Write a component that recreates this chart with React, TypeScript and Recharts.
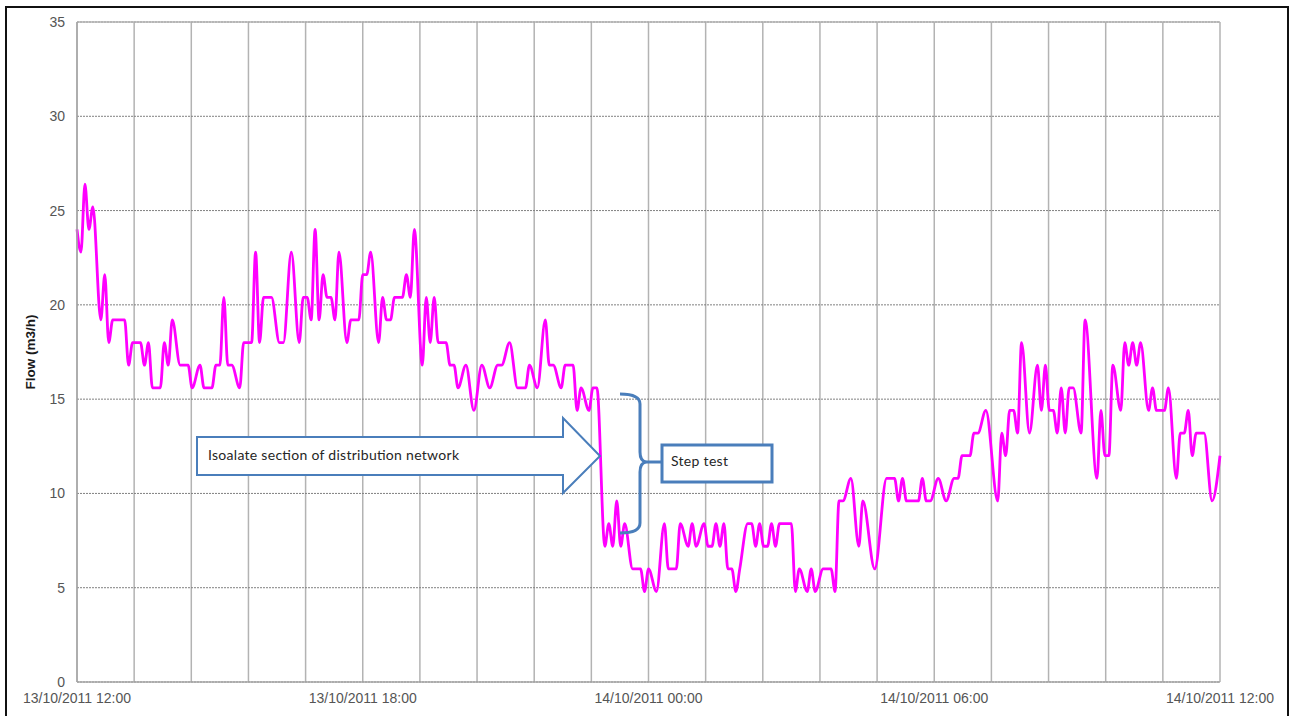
import React from "react";
import { LineChart, Line, XAxis, YAxis, CartesianGrid, ReferenceLine } from "recharts";

// minutes after 13/10/2011 12:00
const minutes = [
    0, 5, 10, 15, 20, 30, 35, 40, 45, 60, 65, 70, 80, 85, 90, 95, 105, 110, 115, 120,
    130, 140, 145, 155, 160, 170, 175, 180, 185, 190, 195, 205, 210, 220, 225, 230, 235, 245, 255, 260,
    270, 280, 285, 290, 295, 300, 305, 310, 315, 320, 325, 330, 340, 345, 355, 360, 365, 370, 380, 385,
    390, 395, 400, 410, 415, 420, 425, 435, 440, 445, 450, 455, 465, 470, 475, 480, 490, 500, 510, 520,
    530, 535, 545, 555, 565, 570, 580, 590, 595, 600, 610, 615, 625, 630, 635, 645, 650, 655, 665, 670,
    675, 680, 685, 690, 700, 710, 715, 720, 730, 740, 745, 755, 760, 770, 775, 780, 790, 795, 800, 805,
    810, 815, 820, 825, 830, 835, 845, 850, 855, 860, 865, 870, 875, 880, 885, 900, 905, 910, 920, 925,
    930, 940, 950, 955, 960, 965, 975, 985, 990, 1005, 1020, 1030, 1035, 1040, 1045, 1060, 1065, 1070, 1075, 1085,
    1095, 1105, 1110, 1115, 1125, 1130, 1135, 1145, 1160, 1165, 1170, 1175, 1180, 1185, 1190, 1200, 1210, 1215, 1220, 1225,
    1230, 1235, 1240, 1245, 1250, 1255, 1265, 1270, 1285, 1290, 1295, 1300, 1305, 1315, 1320, 1325, 1330, 1335, 1340, 1350,
    1355, 1360, 1370, 1375, 1385, 1390, 1395, 1400, 1405, 1410, 1420, 1430, 1440,
];

// flow in m3/h
const flow = [
    24.0, 22.8, 26.4, 24.0, 25.2, 19.2, 21.6, 18.0, 19.2, 19.2, 16.8, 18.0, 18.0, 16.8, 18.0, 15.6, 15.6, 18.0, 16.8, 19.2,
    16.8, 16.8, 15.6, 16.8, 15.6, 15.6, 16.8, 16.8, 20.4, 16.8, 16.8, 15.6, 18.0, 18.0, 22.8, 18.0, 20.4, 20.4, 18.0, 18.0,
    22.8, 18.0, 20.4, 20.4, 19.2, 24.0, 19.2, 21.6, 20.4, 20.4, 19.2, 22.8, 18.0, 19.2, 19.2, 21.6, 21.6, 22.8, 18.0, 20.4,
    19.2, 19.2, 20.4, 20.4, 21.6, 20.4, 24.0, 16.8, 20.4, 18.0, 20.4, 18.0, 18.0, 16.8, 16.8, 15.6, 16.8, 14.4, 16.8, 15.6,
    16.8, 16.8, 18.0, 15.6, 15.6, 16.8, 15.6, 19.2, 16.8, 16.8, 15.6, 16.8, 16.8, 14.4, 15.6, 14.4, 15.6, 15.6, 7.2, 8.4,
    7.2, 9.6, 7.2, 8.4, 6.0, 6.0, 4.8, 6.0, 4.8, 8.4, 6.0, 6.0, 8.4, 7.2, 8.4, 7.2, 8.4, 7.2, 7.2, 8.4,
    7.2, 8.4, 6.0, 6.0, 4.8, 6.0, 8.4, 8.4, 7.2, 8.4, 7.2, 7.2, 8.4, 7.2, 8.4, 8.4, 4.8, 6.0, 4.8, 6.0,
    4.8, 6.0, 6.0, 4.8, 9.6, 9.6, 10.8, 7.2, 9.6, 6.0, 10.8, 10.8, 9.6, 10.8, 9.6, 9.6, 10.8, 9.6, 9.6, 10.8,
    9.6, 10.8, 10.8, 12.0, 12.0, 13.2, 13.2, 14.4, 9.6, 13.2, 12.0, 14.4, 14.4, 13.2, 18.0, 13.2, 16.8, 14.4, 16.8, 14.4,
    14.4, 13.2, 15.6, 13.2, 15.6, 15.6, 13.2, 19.2, 10.8, 14.4, 12.0, 12.0, 16.8, 14.4, 18.0, 16.8, 18.0, 16.8, 18.0, 14.4,
    15.6, 14.4, 14.4, 15.6, 10.8, 13.2, 13.2, 14.4, 12.0, 13.2, 13.2, 9.6, 12.0,
];

const gridMinutes = Array.from({ length: 21 }, (_, i) => i * 72);
const dateLabels = ["13/10/2011 12:00", "13/10/2011 18:00", "14/10/2011 00:00", "14/10/2011 06:00", "14/10/2011 12:00"];
const flowTicks = [0, 5, 10, 15, 20, 25, 30, 35];

const data = minutes.map((t, i) => ({ t, flow: flow[i] }));

const BLUE = "#4a7ebb";
const tickStyle = { fontFamily: "Liberation Sans, Arial, sans-serif", fontSize: 14, fill: "#555" };

function Annotations() {
    return (
        <svg width={1293} height={716} style={{ position: "absolute", left: 0, top: 0, pointerEvents: "none" }}>
            <path
                d="M197,437 L563,437 L563,418 L600,456 L563,493 L563,475 L197,475 Z"
                fill="#fff"
                stroke={BLUE}
                strokeWidth={2}
            />
            <text x={208} y={460} fontFamily="Lato, sans-serif" fontSize={14} fill="#262626" textLength={251}>
                Isoalate section of distribution network
            </text>
            <path
                d="M620,394 Q640,394 640,404 L640,452 Q640,461 646,462 Q640,463 640,472 L640,523 Q640,533 620,533"
                fill="none"
                stroke={BLUE}
                strokeWidth={3}
            />
            <line x1={646} y1={462} x2={662} y2={462} stroke={BLUE} strokeWidth={3} />
            <rect x={662} y={445} width={110} height={37} fill="#fff" stroke={BLUE} strokeWidth={3} />
            <text x={671} y={466} fontFamily="Lato, sans-serif" fontSize={14} fill="#262626" textLength={57}>
                Step test
            </text>
        </svg>
    );
}

export default function App() {
    return (
        <div style={{ position: "absolute", left: 0, top: 0, width: 1293, height: 716, background: "#fff", overflow: "hidden" }}>
            <div
                style={{
                    position: "absolute",
                    left: 5,
                    top: 6,
                    width: 1280,
                    height: 730,
                    border: "2px solid #111",
                }}
            />
            <LineChart width={1293} height={716} data={data} margin={{ top: 22, right: 73, bottom: 0, left: 0 }}>
                <CartesianGrid horizontal={false} stroke="#b3b3b3" strokeWidth={1.5} />
                <CartesianGrid vertical={false} stroke="#808080" strokeDasharray="2 1" />
                <ReferenceLine y={35} stroke="#b3b3b3" strokeWidth={1.5} />
                <XAxis
                    dataKey="t"
                    type="number"
                    domain={[0, 1440]}
                    ticks={gridMinutes}
                    interval={0}
                    height={34}
                    tickLine={false}
                    tickSize={0}
                    tickMargin={11}
                    stroke="#a6a6a6"
                    strokeWidth={1.5}
                    tick={tickStyle}
                    tickFormatter={(v: number) => (v % 360 === 0 ? dateLabels[v / 360] : "")}
                />
                <YAxis
                    type="number"
                    domain={[0, 35]}
                    ticks={flowTicks}
                    interval={0}
                    width={77}
                    tickLine={false}
                    tickSize={0}
                    tickMargin={12}
                    stroke="#a6a6a6"
                    strokeWidth={1.5}
                    tick={tickStyle}
                    label={{
                        value: "Flow (m3/h)",
                        angle: -90,
                        position: "insideLeft",
                        offset: 30,
                        style: { fontFamily: "Liberation Sans, Arial, sans-serif", fontSize: 13.5, fontWeight: "bold", fill: "#1a1a1a", textAnchor: "middle" },
                    }}
                />
                <Line
                    type="monotone"
                    dataKey="flow"
                    stroke="#ff00ff"
                    strokeWidth={2.8}
                    dot={false}
                    isAnimationActive={false}
                />
            </LineChart>
            <Annotations />
        </div>
    );
}
